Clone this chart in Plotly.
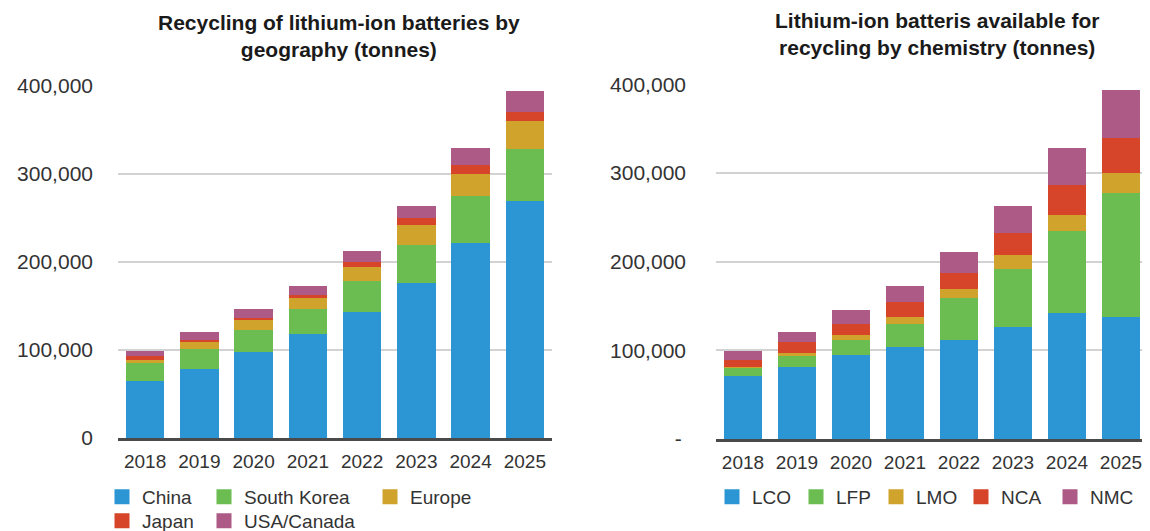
import plotly.graph_objects as go
from plotly.subplots import make_subplots

# ---------------- data (tonnes) ----------------
years = ["2018", "2019", "2020", "2021", "2022", "2023", "2024", "2025"]

# Left chart: recycling by geography
china = [66200, 80600, 99100, 120000, 144500, 177800, 222900, 270600]
south_korea = [21000, 22700, 25000, 28700, 35600, 43600, 54100, 59700]
europe = [3100, 7600, 11700, 12100, 16300, 21900, 24600, 31100]
japan = [4500, 2200, 1900, 3800, 5700, 8700, 10600, 10200]
usa_canada = [2700, 6100, 6800, 6800, 8700, 10200, 15900, 20800]

# Right chart: available for recycling by chemistry
lco = [72600, 83100, 96600, 105300, 113500, 127800, 144300, 139800]
lfp = [9000, 12000, 17300, 26600, 47000, 65800, 92500, 139900]
lmo = [1500, 3800, 5300, 7600, 10200, 16200, 18100, 22500]
nca = [7500, 12000, 12700, 17300, 18800, 24800, 33000, 39100]
nmc = [6800, 8300, 12400, 14200, 20300, 26700, 38800, 51100]

y_tickvals = [0, 100000, 200000, 300000, 400000]
left_ticktext = ["0", "100,000", "200,000", "300,000", "400,000"]
right_ticktext = ["-\u2009", "100,000", "200,000", "300,000", "400,000"]

left_title = "Recycling of lithium-ion batteries by<br>geography (tonnes)"
right_title = "Lithium-ion batteris available for<br>recycling by chemistry (tonnes)"

# ---------------- styling ----------------
BLUE = "#2c96d5"
GREEN = "#6cbd51"
GOLD = "#cfa32c"
RED = "#d64529"
PURPLE = "#ad5a86"
FONT = "Liberation Sans, Arial, Helvetica, sans-serif"
TXT = "#333333"

# page body has an 8px margin, so the figure is 8px smaller than the window
OFF = 8
W, H = 1150 - OFF, 531 - OFF


def px(x):
    return (x - OFF) / W


def py(y):
    return 1 - (y - OFF) / H


fig = make_subplots(rows=1, cols=2)


def add_bar(name, values, color, col, legend, lw_px=None):
    kw = {}
    if lw_px is not None:
        kw["legendwidth"] = lw_px
    fig.add_trace(
        go.Bar(
            x=years, y=values, name=name,
            marker=dict(color=color, line=dict(color=color, width=3)),
            legend=legend, hoverinfo="skip", **kw,
        ),
        row=1, col=col,
    )


add_bar("China", china, BLUE, 1, "legend", 57)
add_bar("South Korea", south_korea, GREEN, 1, "legend", 121)
add_bar("Europe", europe, GOLD, 1, "legend")
add_bar("Japan", japan, RED, 1, "legend2", 57)
add_bar("USA/Canada", usa_canada, PURPLE, 1, "legend2")

add_bar("LCO", lco, BLUE, 2, "legend3", 39)
add_bar("LFP", lfp, GREEN, 2, "legend3", 35)
add_bar("LMO", lmo, GOLD, 2, "legend3", 40)
add_bar("NCA", nca, RED, 2, "legend3", 44)
add_bar("NMC", nmc, PURPLE, 2, "legend3")

xaxis_common = dict(
    type="category", showgrid=False, showline=True, linecolor="#4a4a4a",
    linewidth=3, ticks="", tickfont=dict(size=19, color=TXT, family=FONT),
    ticklabelstandoff=4, fixedrange=True,
)
yaxis_common = dict(
    range=[0, 400000], tickmode="array", tickvals=y_tickvals,
    showgrid=True, gridcolor="#d2d2d2", gridwidth=1.5, zeroline=False,
    showline=False, ticks="", tickfont=dict(size=21, color=TXT, family=FONT),
    fixedrange=True,
)

legend_common = dict(
    orientation="h", xref="container", yref="container",
    xanchor="left", yanchor="top",
    font=dict(size=19, color=TXT, family=FONT), bgcolor="rgba(0,0,0,0)",
    traceorder="normal",
)

fig.update_layout(
    width=W, height=H,
    margin=dict(l=0, r=0, t=0, b=0, autoexpand=False),
    paper_bgcolor="white", plot_bgcolor="white",
    barmode="stack", bargap=0.35,
    font=dict(family=FONT, color=TXT),
    xaxis=dict(domain=[px(118), px(552)], **xaxis_common),
    xaxis2=dict(domain=[px(716), px(1148)], **xaxis_common),
    yaxis=dict(domain=[py(438), py(86)], ticktext=left_ticktext,
               ticklabelstandoff=24, **yaxis_common),
    yaxis2=dict(domain=[py(439), py(84.5)], ticktext=right_ticktext,
                ticklabelstandoff=29, **yaxis_common),
    legend=dict(x=px(102), y=py(478), **legend_common),
    legend2=dict(x=px(102), y=py(502), **legend_common),
    legend3=dict(x=px(712), y=py(478), **legend_common),
    annotations=[
        dict(text="<b>" + left_title + "</b>", xref="paper", yref="paper",
             x=px(339), y=py(36), xanchor="center", yanchor="middle",
             showarrow=False, font=dict(size=21, color="#1a1a1a", family=FONT)),
        dict(text="<b>" + right_title + "</b>", xref="paper", yref="paper",
             x=px(937), y=py(34), xanchor="center", yanchor="middle",
             showarrow=False, font=dict(size=21, color="#1a1a1a", family=FONT)),
    ],
    showlegend=True,
)

fig.write_html("out.html", config={"displayModeBar": False})
